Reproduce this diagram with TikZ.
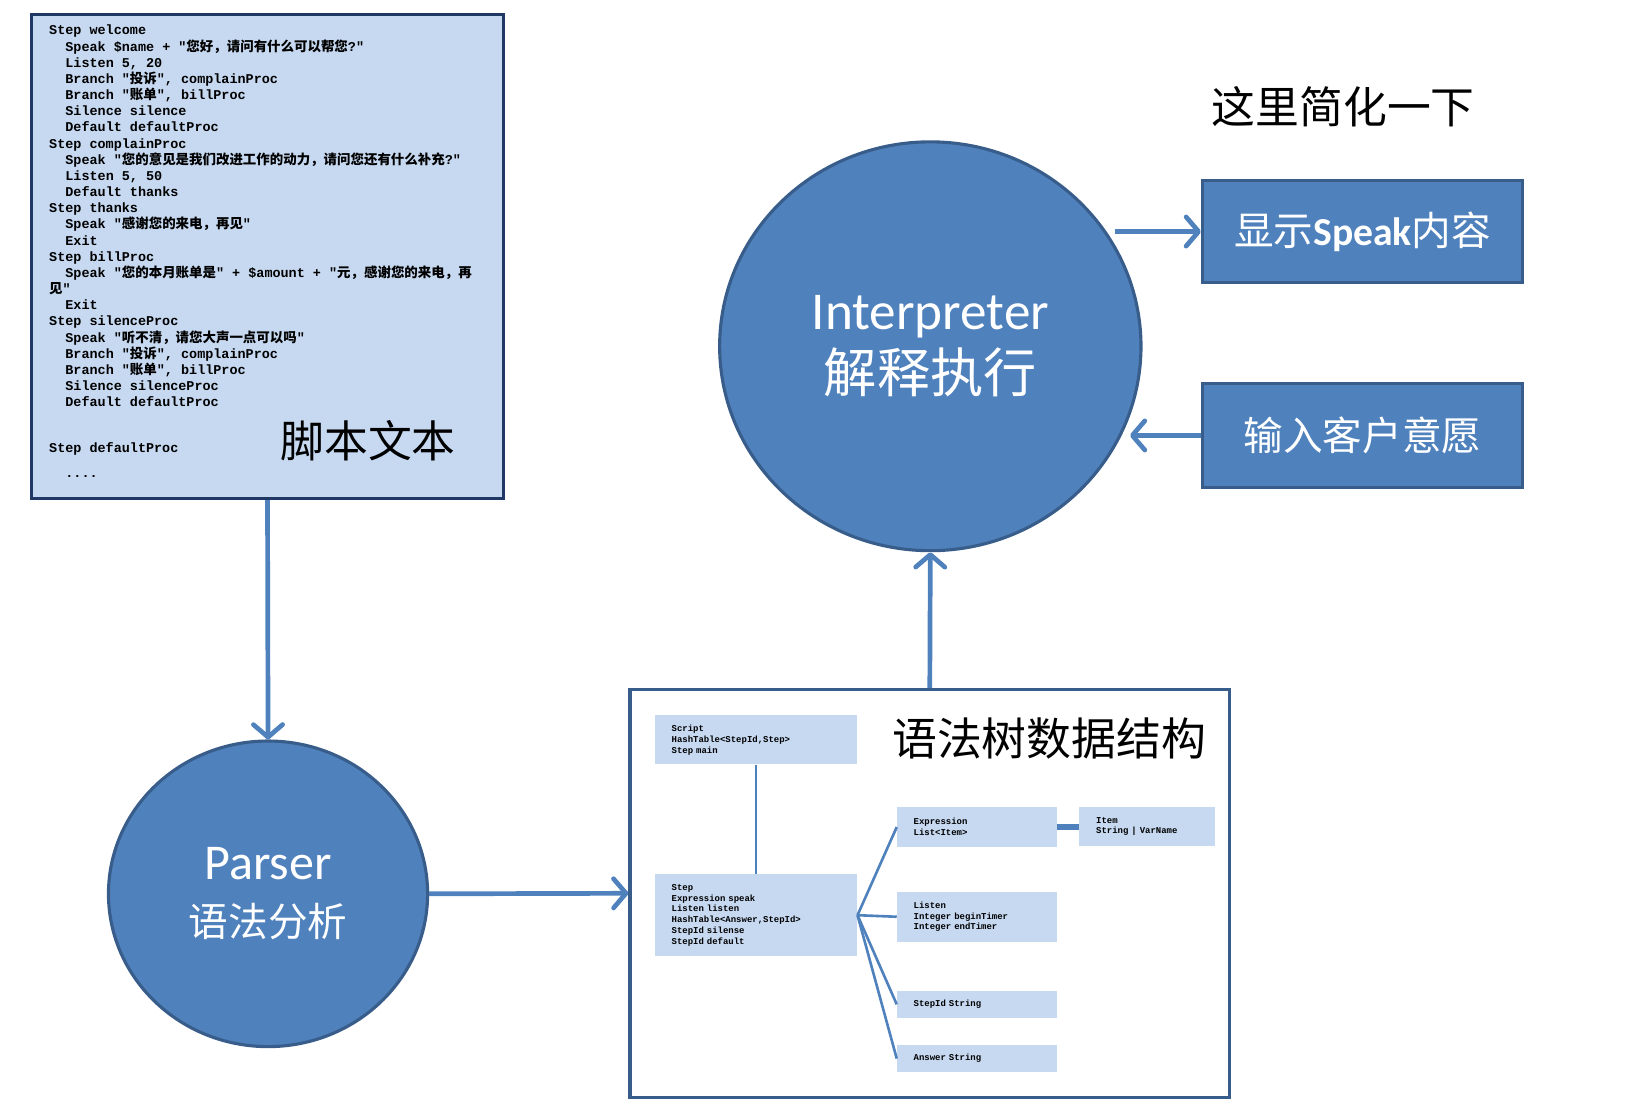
\documentclass[tikz,border=0pt]{standalone}
\usepackage{fontspec}
\usetikzlibrary{arrows.meta,shapes.geometric}
\newfontfamily\codefont{Liberation Mono}
\newfontfamily\cjkfont{Noto Sans CJK SC}
\newfontfamily\calfont{Carlito}
\definecolor{cellblue}{HTML}{C6D9F1}
\definecolor{fillblue}{HTML}{4F81BD}
\definecolor{edgeblue}{HTML}{385D8A}
\definecolor{navyedge}{HTML}{1F3864}
\newcommand{\zh}[1]{{\cjkfont #1}}
\newcommand{\ind}{\hspace*{15.5pt}}

\begin{document}
\begin{tikzpicture}[x=1pt,y=-1pt,
        blob/.style={ellipse, draw=edgeblue, fill=fillblue, line width=3pt, text=white, align=center, inner sep=0pt},
        tag/.style={rectangle, draw=edgeblue, fill=fillblue, line width=3pt, text=white, minimum width=307, minimum height=98, font=\cjkfont\fontsize{38}{44}\selectfont},
        cell/.style={rectangle, fill=cellblue, align=left, text width=#1, inner xsep=16, inner ysep=0, font=\codefont\bfseries\fontsize{8.6}{10.3}\selectfont},
        title/.style={inner sep=0pt, font=\cjkfont\fontsize{42}{48}\selectfont},
        arr/.style={draw=fillblue, line width=4.5pt, -{Straight Barb[length=12pt,width=28pt,round]}},
        link/.style={draw=fillblue, line width=2.5pt}]
      \useasboundingbox (0,0) rectangle (1560,1061);

      % script text
      \node[rectangle, draw=navyedge, fill=cellblue, line width=3pt, minimum width=453, minimum height=464] (script) at (256.5,246) {};
      \node[anchor=north west, align=left, inner sep=0pt, font=\codefont\bfseries\fontsize{12.9}{15.5}\selectfont] (code) at (47,24) {%
        Step welcome\\
        \ind Speak \$name + "\zh{您好，请问有什么可以帮您}?"\\
        \ind Listen 5, 20\\
        \ind Branch "\zh{投诉}", complainProc\\
        \ind Branch "\zh{账单}", billProc\\
        \ind Silence silence\\
        \ind Default defaultProc\\
        Step complainProc\\
        \ind Speak "\zh{您的意见是我们改进工作的动力，请问您还有什么补充}?"\\
        \ind Listen 5, 50\\
        \ind Default thanks\\
        Step thanks\\
        \ind Speak "\zh{感谢您的来电，再见}"\\
        \ind Exit\\
        Step billProc\\
        \ind Speak "\zh{您的本月账单是}" + \$amount + "\zh{元，感谢您的来电，再}\\
        \zh{见}"\\
        \ind Exit\\
        Step silenceProc\\
        \ind Speak "\zh{听不清，请您大声一点可以吗}"\\
        \ind Branch "\zh{投诉}", complainProc\\
        \ind Branch "\zh{账单}", billProc\\
        \ind Silence silenceProc\\
        \ind Default defaultProc\\[28.5pt]
        Step defaultProc\\[8.5pt]
        \ind ....};
      \node[title] (scripttitle) at (353,423) {脚本文本};
      \node[title] (note) at (1288,102) {这里简化一下};

      % parser and interpreter
      \node[blob, minimum width=306, minimum height=293, font=\calfont\fontsize{48}{55}\selectfont] (parser) at (257,857) {Parser\\\zh{\fontsize{38}{55}\selectfont 语法分析}};
      \node[blob, minimum width=404, minimum height=392, font=\calfont\fontsize{51}{60}\selectfont] (interp) at (892,332) {Interpreter\\\zh{解释执行}};
      \node[tag] (show) at (1306.5,222) {显示{\calfont\bfseries Speak}内容};
      \node[tag, minimum height=99] (inp) at (1306.5,417.5) {输入客户意愿};

      % syntax tree
      \node[rectangle, draw=edgeblue, fill=white, line width=3pt, minimum width=575, minimum height=391] (data) at (891.5,856.5) {};
      \node[title, font=\cjkfont\fontsize{43}{48}\selectfont] (treetitle) at (1006,708) {语法树数据结构};
      \node[cell=162, minimum height=47] (scr) at (725,709.5) {Script\\HashTable<StepId,Step>\\Step main};
      \node[cell=162, minimum height=79] (stp) at (725,877.5) {Step\\Expression speak\\Listen listen\\HashTable<Answer,StepId>\\StepId silense\\StepId default};
      \node[cell=121, minimum height=38] (expr) at (936.5,793) {Expression\\List<Item>};
      \node[cell=98, minimum height=38] (item) at (1100,792.5) {Item\\String | VarName};
      \node[cell=121, minimum height=48] (lsn) at (936.5,879) {Listen\\Integer beginTimer\\Integer endTimer};
      \node[cell=121, minimum height=26] (sid) at (936.5,963) {StepId String};
      \node[cell=121, minimum height=26] (ans) at (936.5,1015) {Answer String};

      \draw[link, line width=2pt] (scr.south) -- (stp.north);
      \foreach \n in {expr,lsn,sid,ans}
            \draw[link] (stp.east) -- (\n.west);
      \draw[link, line width=6pt] (expr.east) -- (expr.east -| item.west);

      % arrows
      \draw[arr] (script.south) -- (parser.north);
      \draw[arr] (parser.east) -- (data.west);
      \draw[arr] (data.north) -- (interp.south);
      \draw[arr, shorten <=6pt] (show.west -| interp.32) -- (show.west);
      \draw[arr, shorten >=8pt] (inp.west) -- (inp.west -| interp.-25);
\end{tikzpicture}
\end{document}
